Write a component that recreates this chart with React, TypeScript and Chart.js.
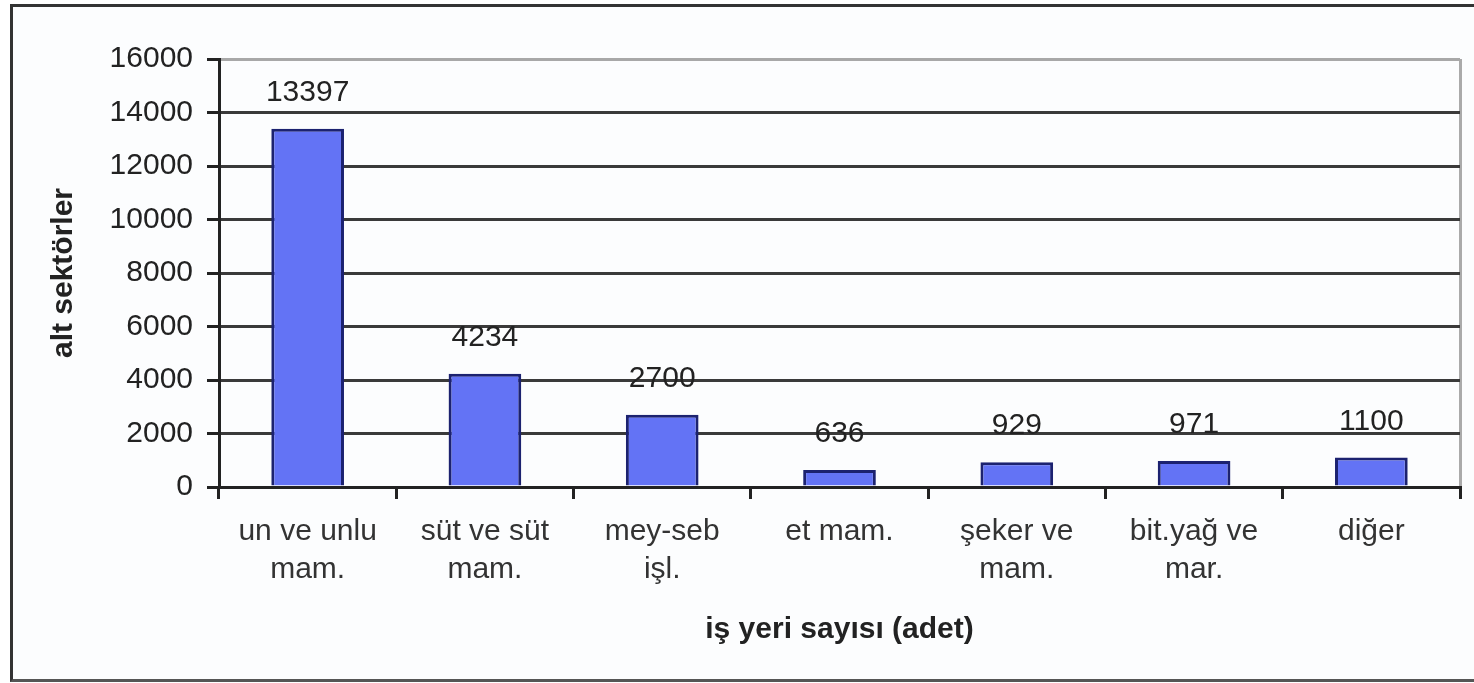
import React, { useEffect, useRef } from "react";
import { Chart, registerables } from "chart.js";

Chart.register(...registerables);

const categories: (string | string[])[] = [
  ["un ve unlu", "mam."],
  ["süt ve süt", "mam."],
  ["mey-seb", "işl."],
  "et mam.",
  ["şeker ve", "mam."],
  ["bit.yağ ve", "mar."],
  "diğer",
];
const values: number[] = [13397, 4234, 2700, 636, 929, 971, 1100];
const yTicks: number[] = [0, 2000, 4000, 6000, 8000, 10000, 12000, 14000, 16000];
const yTitle = "alt sektörler";
const xTitle = "iş yeri sayısı (adet)";

const FONT = "'Liberation Sans', Arial, sans-serif";

const valueLabels = {
  id: "valueLabels",
  afterDatasetsDraw(chart: any) {
    const ctx = chart.ctx;
    const meta = chart.getDatasetMeta(0);
    ctx.save();
    ctx.font = `30px ${FONT}`;
    ctx.fillStyle = "#222";
    ctx.textAlign = "center";
    ctx.textBaseline = "middle";
    meta.data.forEach((el: any, i: number) => {
      ctx.fillText(String(values[i]), el.x, el.y - 36);
    });
    ctx.restore();
  },
};

export default function App() {
  const ref = useRef<HTMLCanvasElement>(null);
  useEffect(() => {
    if (!ref.current) return;
    Chart.defaults.font.family = FONT;
    const chart = new Chart(ref.current, {
      type: "bar",
      data: {
        labels: categories,
        datasets: [
          {
            data: values,
            backgroundColor: "#6373f5",
            borderColor: "#1c2270",
            borderWidth: 3,
            barPercentage: 0.41,
            categoryPercentage: 1,
          },
        ],
      },
      options: {
        animation: false,
        responsive: false,
        layout: { padding: { left: 0, top: 59, right: 14, bottom: 0 } },
        plugins: { legend: { display: false }, tooltip: { enabled: false } },
        scales: {
          x: {
            offset: true,
            grid: {
              offset: true,
              drawOnChartArea: true,
              color: (c: any) => (c.tick ? "rgba(0,0,0,0)" : "#aaaaaa"),
              tickColor: "#222",
              tickLength: 12,
              lineWidth: 3,
            },
            border: { display: true, color: "#222", width: 3 },
            ticks: {
              color: "#333",
              font: { size: 30, lineHeight: 1.27 },
              padding: 14,
              maxRotation: 0,
              autoSkip: false,
            },
            title: {
              display: true,
              text: xTitle,
              color: "#222",
              font: { size: 30, weight: "bold", lineHeight: 1.2 },
              padding: { top: 0, bottom: 35 },
            },
            afterFit: (s: any) => {
              s.height = 196;
            },
          },
          y: {
            min: 0,
            max: 16000,
            afterBuildTicks: (s: any) => {
              s.ticks = yTicks.map((v) => ({ value: v }));
            },
            grid: {
              color: (c: any) => (c.tick && c.tick.value === 16000 ? "#a8a8a8" : "#3a3a3a"),
              tickColor: "#222",
              tickLength: 12,
              lineWidth: 3,
            },
            border: { display: true, color: "#222", width: 3 },
            ticks: {
              color: "#222",
              font: { size: 30 },
              padding: 14,
              callback: (v: any) => String(v),
            },
            title: {
              display: true,
              text: yTitle,
              color: "#222",
              font: { size: 30, weight: "bold", lineHeight: 1.2 },
              padding: { top: 46, bottom: 0 },
            },
            afterFit: (s: any) => {
              s.width = 219;
            },
          },
        },
      },
      plugins: [valueLabels],
    });
    return () => chart.destroy();
  }, []);

  return (
    <div style={{ position: "absolute", left: 0, top: 0, width: 1474, height: 683, background: "#fff", overflow: "hidden" }}>
      <div
        style={{
          position: "absolute",
          left: 10,
          top: 4,
          width: 1480,
          height: 672,
          borderLeft: "3px solid #333",
          borderTop: "3px solid #333",
          borderBottom: "3px solid #555",
          background: "#fcfdfe",
        }}
      />
      <canvas ref={ref} width={1474} height={683} style={{ position: "absolute", left: 0, top: 0, width: 1474, height: 683 }} />
    </div>
  );
}
